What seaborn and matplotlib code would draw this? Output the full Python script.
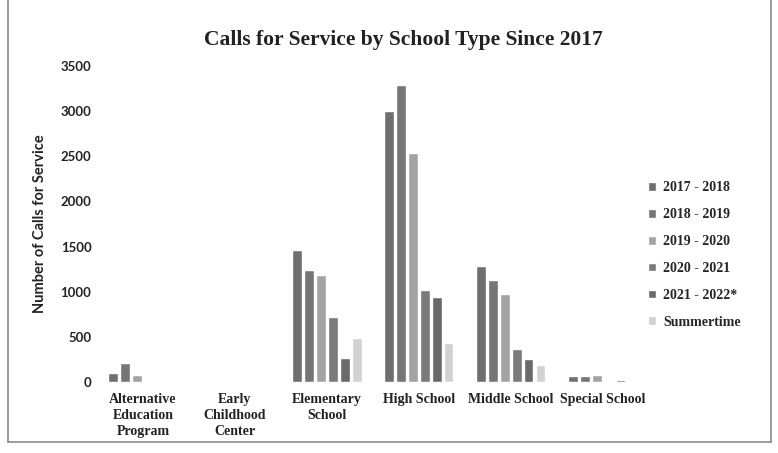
import matplotlib
matplotlib.use("Agg")
import matplotlib.pyplot as plt
from matplotlib.lines import Line2D
import seaborn as sns
import pandas as pd

# School types and the reporting periods
categories = [
    "Alternative\nEducation\nProgram",
    "Early\nChildhood\nCenter",
    "Elementary\nSchool",
    "High School",
    "Middle School",
    "Special School",
]
periods = ["2017 - 2018", "2018 - 2019", "2019 - 2020", "2020 - 2021", "2021 - 2022*", "Summertime"]

# Calls for service per school type, one list per period
calls_2017_2018 = [105, 10, 1460, 3000, 1290, 65]
calls_2018_2019 = [210, 8, 1245, 3285, 1135, 65]
calls_2019_2020 = [75, 6, 1190, 2535, 980, 75]
calls_2020_2021 = [8, 4, 725, 1015, 370, 15]
calls_2021_2022 = [5, 3, 262, 945, 250, 18]
calls_summer = [3, 2, 490, 435, 185, 10]

series = [calls_2017_2018, calls_2018_2019, calls_2019_2020,
          calls_2020_2021, calls_2021_2022, calls_summer]
colors = ["#6f6f6f", "#767676", "#a3a3a3", "#7a7a7a", "#6a6a6a", "#d2d2d2"]

rows = []
for period, values in zip(periods, series):
    for cat, v in zip(categories, values):
        rows.append({"School Type": cat, "Period": period, "Calls": v})
df = pd.DataFrame(rows)

sns.set_style("white")
plt.rcParams["font.family"] = ["Liberation Serif", "DejaVu Serif"]

fig = plt.figure(figsize=(7.78, 4.53), dpi=100)
ax = fig.add_axes([0.1247, 0.1567, 0.7093, 0.6976])

sns.barplot(data=df, x="School Type", y="Calls", hue="Period",
            hue_order=periods, order=categories, palette=colors,
            width=0.78, gap=0.22, saturation=1, ax=ax, legend=True)

ax.set_ylim(0, 3500)
ax.set_yticks(range(0, 3501, 500))
ax.set_yticklabels([str(t) for t in range(0, 3501, 500)],
                   fontfamily=["Lato", "DejaVu Sans"], fontweight="bold",
                   fontsize=9.5, color="#222222")
ax.set_xticks(range(len(categories)))
ax.set_xticklabels(categories, fontweight="bold", fontsize=10, color="#222222",
                   linespacing=1.3)
ax.tick_params(axis="both", length=0)
ax.tick_params(axis="y", pad=4)
ax.tick_params(axis="x", pad=8)
ax.set_xlabel("")
ax.set_ylabel("Number of Calls for Service", fontfamily=["Lato", "DejaVu Sans"],
              fontweight="bold", fontsize=10.5, color="#222222", labelpad=10)
for s in ax.spines.values():
    s.set_visible(False)
ax.set_xlim(-0.5, len(categories) - 0.5)

fig.text(0.518, 0.912, "Calls for Service by School Type Since 2017",
         ha="center", va="center", fontsize=15.5, fontweight="bold", color="#222222")

handles, labels = ax.get_legend_handles_labels()
ax.get_legend().remove()
fig.legend(handles, labels, loc="center left", bbox_to_anchor=(0.817, 1 - 255 / 453),
           frameon=False, handlelength=0.6, handleheight=0.6, handletextpad=0.5,
           labelspacing=1.0, prop={"weight": "bold", "size": 10})

# Outer frame around the chart (left, bottom and right edges)
x0, x1 = 8 / 778, 771 / 778
y0, y1 = 1 - 442 / 453, 1.0
for xs, ys in [((x0, x0), (y0, y1)), ((x0, x1), (y0, y0)), ((x1, x1), (y0, y1))]:
    fig.add_artist(Line2D(xs, ys, transform=fig.transFigure,
                          color="#8a8a8a", linewidth=1.2))

fig.savefig("out.png", dpi=100)
